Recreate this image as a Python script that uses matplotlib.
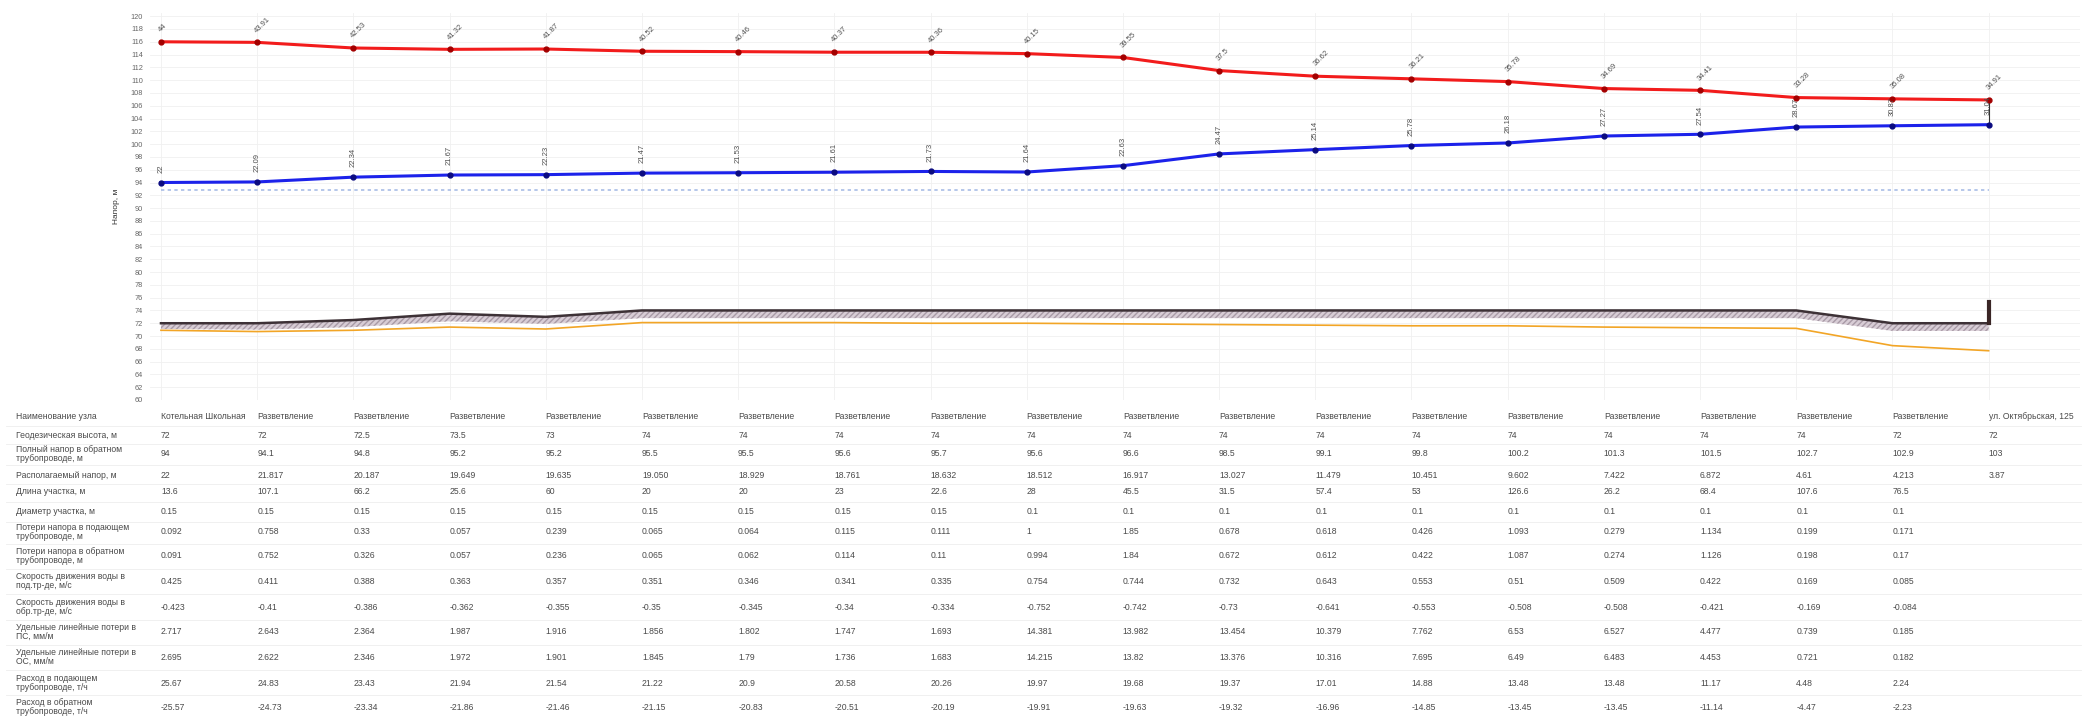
import matplotlib
matplotlib.use('Agg')
import matplotlib.pyplot as plt
from matplotlib import transforms
from matplotlib.lines import Line2D
import numpy as np

plt.rcParams['font.family'] = ['Liberation Sans', 'DejaVu Sans']

# ---- data ----
node_names = ['Котельная Школьная'] + ['Разветвление'] * 18 + ['ул. Октябрьская, 125']
geo_height = [72, 72, 72.5, 73.5, 73, 74, 74, 74, 74, 74, 74, 74, 74, 74, 74, 74, 74, 74, 72, 72]
supply_head = [116.0, 115.91, 115.03, 114.82, 114.87, 114.52, 114.46, 114.37, 114.36, 114.15,
               113.55, 111.5, 110.62, 110.21, 109.78, 108.69, 108.41, 107.28, 107.08, 106.91]
return_head = [94.0, 94.09, 94.84, 95.17, 95.23, 95.47, 95.53, 95.61, 95.73, 95.64,
               96.63, 98.47, 99.14, 99.78, 100.18, 101.27, 101.54, 102.67, 102.87, 103.04]
static_head = 92.9
band_bottom = [71.1, 71.0, 71.4, 72.3, 71.9, 72.8, 72.8, 72.8, 72.8, 72.8,
               72.8, 72.8, 72.8, 72.8, 72.8, 72.8, 72.8, 72.8, 70.8, 70.8]
pipe_line = [70.9, 70.7, 70.9, 71.4, 71.1, 72.1, 72.1, 72.1, 72.0, 72.0,
             71.9, 71.8, 71.7, 71.6, 71.6, 71.4, 71.3, 71.2, 68.5, 67.7]
building_top = 75.3

row_labels = [
    'Наименование узла',
    'Геодезическая высота, м',
    'Полный напор в обратном\nтрубопроводе, м',
    'Располагаемый напор, м',
    'Длина участка, м',
    'Диаметр участка, м',
    'Потери напора в подающем\nтрубопроводе, м',
    'Потери напора в обратном\nтрубопроводе, м',
    'Скорость движения воды в\nпод.тр-де, м/с',
    'Скорость движения воды в\nобр.тр-де, м/с',
    'Удельные линейные потери в\nПС, мм/м',
    'Удельные линейные потери в\nОС, мм/м',
    'Расход в подающем\nтрубопроводе, т/ч',
    'Расход в обратном\nтрубопроводе, т/ч',
]
row_geo = ['72', '72', '72.5', '73.5', '73', '74', '74', '74', '74', '74', '74', '74', '74', '74',
           '74', '74', '74', '74', '72', '72']
row_full_return = ['94', '94.1', '94.8', '95.2', '95.2', '95.5', '95.5', '95.6', '95.7', '95.6',
                   '96.6', '98.5', '99.1', '99.8', '100.2', '101.3', '101.5', '102.7', '102.9', '103']
row_available = ['22', '21.817', '20.187', '19.649', '19.635', '19.050', '18.929', '18.761', '18.632',
                 '18.512', '16.917', '13.027', '11.479', '10.451', '9.602', '7.422', '6.872', '4.61',
                 '4.213', '3.87']
row_length = ['13.6', '107.1', '66.2', '25.6', '60', '20', '20', '23', '22.6', '28', '45.5', '31.5',
              '57.4', '53', '126.6', '26.2', '68.4', '107.6', '76.5', '']
row_diameter = ['0.15'] * 9 + ['0.1'] * 10 + ['']
row_loss_supply = ['0.092', '0.758', '0.33', '0.057', '0.239', '0.065', '0.064', '0.115', '0.111', '1',
                   '1.85', '0.678', '0.618', '0.426', '1.093', '0.279', '1.134', '0.199', '0.171', '']
row_loss_return = ['0.091', '0.752', '0.326', '0.057', '0.236', '0.065', '0.062', '0.114', '0.11', '0.994',
                   '1.84', '0.672', '0.612', '0.422', '1.087', '0.274', '1.126', '0.198', '0.17', '']
row_vel_supply = ['0.425', '0.411', '0.388', '0.363', '0.357', '0.351', '0.346', '0.341', '0.335', '0.754',
                  '0.744', '0.732', '0.643', '0.553', '0.51', '0.509', '0.422', '0.169', '0.085', '']
row_vel_return = ['-0.423', '-0.41', '-0.386', '-0.362', '-0.355', '-0.35', '-0.345', '-0.34', '-0.334',
                  '-0.752', '-0.742', '-0.73', '-0.641', '-0.553', '-0.508', '-0.508', '-0.421', '-0.169',
                  '-0.084', '']
row_spec_supply = ['2.717', '2.643', '2.364', '1.987', '1.916', '1.856', '1.802', '1.747', '1.693', '14.381',
                   '13.982', '13.454', '10.379', '7.762', '6.53', '6.527', '4.477', '0.739', '0.185', '']
row_spec_return = ['2.695', '2.622', '2.346', '1.972', '1.901', '1.845', '1.79', '1.736', '1.683', '14.215',
                   '13.82', '13.376', '10.316', '7.695', '6.49', '6.483', '4.453', '0.721', '0.182', '']
row_flow_supply = ['25.67', '24.83', '23.43', '21.94', '21.54', '21.22', '20.9', '20.58', '20.26', '19.97',
                   '19.68', '19.37', '17.01', '14.88', '13.48', '13.48', '11.17', '4.48', '2.24', '']
row_flow_return = ['-25.57', '-24.73', '-23.34', '-21.86', '-21.46', '-21.15', '-20.83', '-20.51', '-20.19',
                   '-19.91', '-19.63', '-19.32', '-16.96', '-14.85', '-13.45', '-13.45', '-11.14', '-4.47',
                   '-2.23', '']

table_rows = [node_names, row_geo, row_full_return, row_available, row_length, row_diameter,
              row_loss_supply, row_loss_return, row_vel_supply, row_vel_return,
              row_spec_supply, row_spec_return, row_flow_supply, row_flow_return]
row_y_px = [416, 435, 454, 475, 492, 511, 532, 556, 581, 607, 632, 657, 683, 707]

W, H = 2087, 722
fig = plt.figure(figsize=(W / 100, H / 100), dpi=100)
fig.patch.set_facecolor('white')
ax = fig.add_axes([150 / W, 1 - 400 / H, (2080 - 150) / W, (400 - 13) / H])

x = np.arange(len(geo_height))
ax.set_xlim(-0.114, 19.95)
ax.set_ylim(60, 120.5)
ax.set_yticks(np.arange(60, 121, 2))
ax.set_xticks(x)
ax.set_xticklabels([])
ax.tick_params(axis='x', length=0)
ax.tick_params(axis='y', length=0, labelsize=5.3, labelcolor='#666666', pad=5)
for s in ax.spines.values():
    s.set_visible(False)
ax.grid(True, color='#f0f0f0', lw=0.6)
ax.set_axisbelow(True)
ax.set_ylabel('Напор, м', fontsize=6, color='#333333', labelpad=8)

# terrain and pipe
ax.fill_between(x, band_bottom, geo_height, facecolor='#d8cdd6', edgecolor='#a89aa6',
                hatch='//////', lw=0, zorder=2)
ax.plot(x, pipe_line, color='#f2a526', lw=1.2, zorder=3)
ax.plot(x, geo_height, color='#3d3136', lw=1.8, zorder=3)
ax.plot([x[-1], x[-1]], [geo_height[-1], building_top], color='#3a2626', lw=3, zorder=3)

# static head line
ax.plot([x[0], x[-1]], [static_head, static_head], color='#a9bde6', lw=1.2, ls=(0, (2, 2)), zorder=2)

# head lines
ax.plot([x[-1], x[-1]], [return_head[-1], supply_head[-1]], color='#333333', lw=0.8, zorder=3)
ax.plot(x, supply_head, color='#f21c1c', lw=2.2, marker='o', ms=3.5,
        mfc='#a30000', mec='#a30000', zorder=4)
ax.plot(x, return_head, color='#1c22ea', lw=2.2, marker='o', ms=3.5,
        mfc='#0b0b80', mec='#0b0b80', zorder=4)

for i in x:
    p_s = round(supply_head[i] - geo_height[i], 2)
    p_r = round(return_head[i] - geo_height[i], 2)
    ax.annotate(f'{p_s:g}', (i, supply_head[i]), xytext=(1, 6), textcoords='offset points',
                rotation=45, rotation_mode='anchor', ha='left', va='bottom',
                fontsize=5.5, color='#505050', zorder=5)
    ax.annotate(f'{p_r:g}', (i, return_head[i]), xytext=(0, 7), textcoords='offset points',
                rotation=90, ha='center', va='bottom', fontsize=5.5, color='#505050', zorder=5)

# table under the chart
trans = transforms.blended_transform_factory(ax.transData, fig.transFigure)
for r, (lab, vals, ypx) in enumerate(zip(row_labels, table_rows, row_y_px)):
    yf = 1 - ypx / H
    fig.text(16 / W, yf, lab, fontsize=6.2, va='center', ha='left', color='#4a4a4a', linespacing=1.05)
    for i, v in enumerate(vals):
        fig.text(i, yf, v, transform=trans, fontsize=6.2, va='center', ha='left', color='#4a4a4a')
    if r < len(row_y_px) - 1:
        ysep = 1 - (ypx + row_y_px[r + 1]) / 2 / H
        fig.add_artist(Line2D([0.003, 0.997], [ysep, ysep], color='#eeeeee', lw=0.6))

fig.savefig('out.png', dpi=100, facecolor='white')
